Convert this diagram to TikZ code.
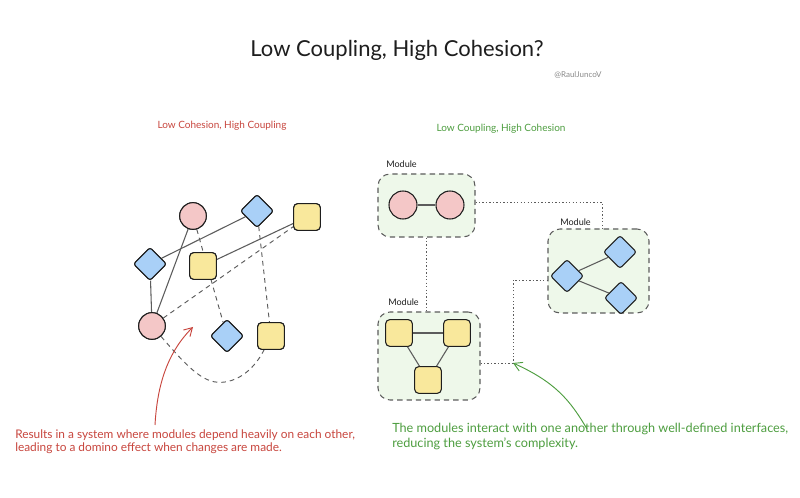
\documentclass[tikz,border=0pt]{standalone}
\usepackage{fontspec}
\setmainfont{Lato}
\usetikzlibrary{shapes.geometric,arrows.meta}
\definecolor{pinkf}{HTML}{F4C7C7}
\definecolor{bluef}{HTML}{A9D0F7}
\definecolor{yellowf}{HTML}{F9E89C}
\definecolor{stroke}{HTML}{1E1E1E}
\definecolor{edgec}{HTML}{5C5C5C}
\definecolor{redt}{HTML}{C8463E}
\definecolor{greent}{HTML}{4E9E40}
\definecolor{modf}{HTML}{EEF8EA}
\definecolor{graytxt}{HTML}{8A8A8A}
\tikzset{
  circ/.style={circle, draw=stroke, fill=pinkf, line width=0.8pt, minimum size=20pt, inner sep=0pt},
  diam/.style={diamond, draw=stroke, fill=bluef, line width=0.8pt, minimum size=25pt, inner sep=0pt, rounded corners=2pt},
  sqr/.style={rectangle, draw=stroke, fill=yellowf, line width=0.8pt, minimum size=20pt, inner sep=0pt, rounded corners=3pt},
  solidedge/.style={draw=edgec, line width=0.8pt},
  dashedge/.style={draw=edgec, line width=0.7pt, dash pattern=on 3.5pt off 3pt},
  modbox/.style={rectangle, draw=edgec, fill=modf, line width=0.8pt, dash pattern=on 4pt off 3pt, rounded corners=9pt, inner sep=0pt},
  dotedge/.style={draw=edgec, line width=0.6pt, dash pattern=on 1pt off 1.6pt},
  modlabel/.style={font=\fontsize{6.8}{8}\selectfont, text=stroke, anchor=west, inner sep=0pt},
}
\begin{document}
\begin{tikzpicture}[x=0.75pt,y=-0.75pt]
\useasboundingbox[fill=white] (0,0) rectangle (800,498);

% titles
\node[font=\fontsize{16.5}{19}\selectfont, text=stroke] (title) at (397,50) {Low Coupling, High Cohesion?};
\node[font=\fontsize{6}{7}\selectfont, text=graytxt] (handle) at (578,75) {@RaulJuncoV};
\node[font=\fontsize{7.5}{9}\selectfont, text=redt] (lefthead) at (222,126) {Low Cohesion, High Coupling};
\node[font=\fontsize{7.5}{9}\selectfont, text=greent] (righthead) at (501,129) {Low Coupling, High Cohesion};

% left diagram
\node[circ] (p1) at (193,216) {};
\node[diam] (b1) at (257,211) {};
\node[sqr]  (y1) at (307,217) {};
\node[diam] (b2) at (150,264) {};
\node[sqr]  (y2) at (203,266) {};
\node[circ] (p2) at (152,326) {};
\node[diam] (b3) at (227,336) {};
\node[sqr]  (y3) at (271,336) {};

\draw[solidedge] (p1) -- (p2);
\draw[solidedge] (b2) -- (b1);
\draw[solidedge] (b2) -- (p2);
\draw[solidedge] (y2) -- (y1);
\draw[dashedge] (p1) -- (b3);
\draw[dashedge] (b1) -- (y3);
\draw[dashedge] (p2) -- (y1);
\draw[dashedge] (p2) .. controls (190,370) and (205,385) .. (225,382) .. controls (245,379) and (258,362) .. (y3);
% nodes again, on top of the edges
\node[circ] at (p1) {};
\node[diam] at (b1) {};
\node[sqr]  at (y1) {};
\node[diam] at (b2) {};
\node[sqr]  at (y2) {};
\node[circ] at (p2) {};
\node[diam] at (b3) {};
\node[sqr]  at (y3) {};

% right diagram modules
\node[modbox, minimum width=72.75pt, minimum height=47.25pt] (m1) at (426.5,205.5) {};
\node[modbox, minimum width=75.75pt, minimum height=63pt] (m2) at (598.5,271) {};
\node[modbox, minimum width=76.5pt, minimum height=66pt] (m3) at (429,356) {};
\node[modlabel] (l1) at (386,164) {Module};
\node[modlabel] (l2) at (560,222) {Module};
\node[modlabel] (l3) at (388,302) {Module};

\node[circ, minimum size=21pt] (c1) at (403,205) {};
\node[circ, minimum size=21pt] (c2) at (450,205) {};
\draw[solidedge] (c1) -- (c2);

\node[diam] (d1) at (567,276) {};
\node[diam] (d2) at (620,252) {};
\node[diam] (d3) at (621,298) {};
\draw[solidedge] (d1) -- (d2);
\draw[solidedge] (d1) -- (d3);

\node[sqr] (s1) at (399,333) {};
\node[sqr] (s2) at (457,333) {};
\node[sqr] (s3) at (428,380) {};
\draw[solidedge] (s1) -- (s2);
\draw[solidedge] (s1) -- (s3);
\draw[solidedge] (s2) -- (s3);

% dotted interfaces
\coordinate (j) at (513,363);
\draw[dotedge] (m1.east |- 0,202) -| (602,229);
\draw[dotedge] (m1.south) -- (m1.south |- m3.north);
\draw[dotedge] (m3.east |- j) -- (j) |- (m2.west |- 0,280);

% annotations
\node[font=\fontsize{8.9}{9.8}\selectfont, text=redt, anchor=north west, align=left, inner sep=0pt] (redtext) at (15,429)
  {Results in a system where modules depend heavily on each other,\\leading to a domino effect when changes are made.};
\node[font=\fontsize{9.5}{11.2}\selectfont, text=greent, anchor=north west, align=left, inner sep=0pt] (greentext) at (392,423)
  {The modules interact with one another through well-defined interfaces,\\reducing the system's complexity.};

\coordinate (ra) at (155,425);
\coordinate (rb) at (193,327);
\draw[draw=redt, line width=0.7pt, -{Straight Barb[length=6pt,width=7pt]}] (ra) .. controls (157,390) and (165,355) .. (rb);
\coordinate (ga) at (587,429);
\draw[draw=greent, line width=0.7pt, -{Straight Barb[length=6pt,width=7pt]}] (ga) .. controls (570,400) and (555,382) .. (j);
\end{tikzpicture}
\end{document}
